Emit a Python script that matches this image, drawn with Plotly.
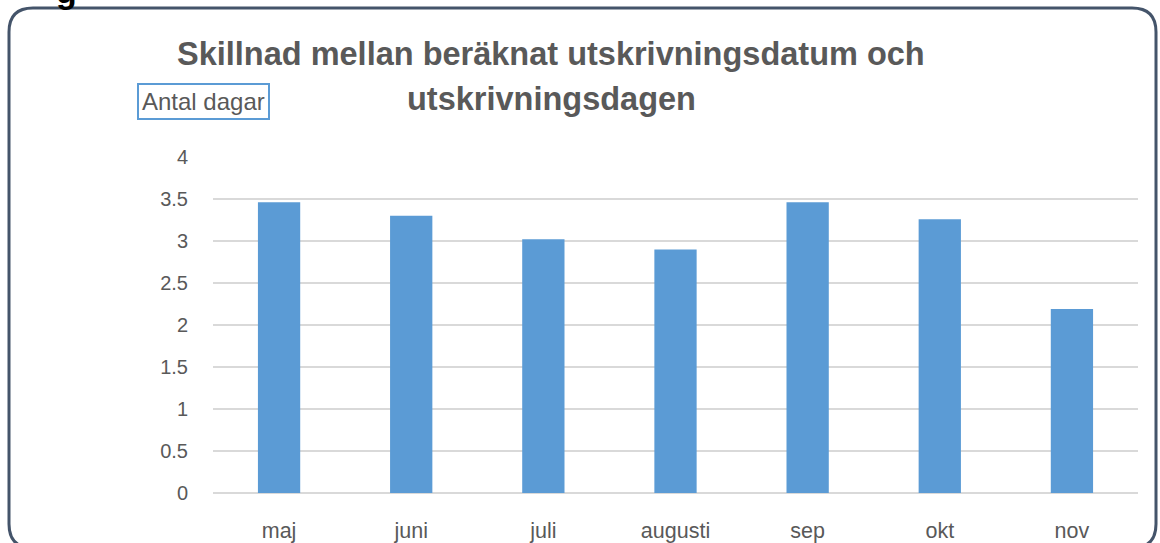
import plotly.graph_objects as go

months = ["maj", "juni", "juli", "augusti", "sep", "okt", "nov"]
days = [3.46, 3.30, 3.02, 2.90, 3.46, 3.26, 2.19]
y_ticks = [0, 0.5, 1, 1.5, 2, 2.5, 3, 3.5, 4]
y_tick_text = ["0", "0.5", "1", "1.5", "2", "2.5", "3", "3.5", "4"]

W, H = 1160, 543
L, R, T, B = 213, 22, 157, 50
PW, PH = W - L - R, H - T - B

def px(x):
    return (x - L) / PW

def py(y):
    return (H - B - y) / PH

fig = go.Figure(go.Bar(x=months, y=days, marker_color="#5B9BD5", marker_line_width=0))

GRAY = "#595959"
FONT = "Liberation Sans"

# rounded border
x0, x1, y0, y1, r = 9, 1156, 8, 548, 24
path = (f"M {px(x0+r)} {py(y0)} L {px(x1-r)} {py(y0)} "
        f"Q {px(x1)} {py(y0)} {px(x1)} {py(y0+r)} "
        f"L {px(x1)} {py(y1-r)} Q {px(x1)} {py(y1)} {px(x1-r)} {py(y1)} "
        f"L {px(x0+r)} {py(y1)} Q {px(x0)} {py(y1)} {px(x0)} {py(y1-r)} "
        f"L {px(x0)} {py(y0+r)} Q {px(x0)} {py(y0)} {px(x0+r)} {py(y0)} Z")
fig.add_shape(type="path", path=path, xref="paper", yref="paper",
              line=dict(color="#44546A", width=3), layer="below")

fig.add_annotation(text="<b>Skillnad mellan beräknat utskrivningsdatum och</b>",
                   x=px(551), y=py(74), xref="paper", yref="paper",
                   xanchor="center", yanchor="bottom", showarrow=False,
                   font=dict(family=FONT, size=32.5, color=GRAY))
fig.add_annotation(text="<b>utskrivningsdagen</b>",
                   x=px(551), y=py(119), xref="paper", yref="paper",
                   xanchor="center", yanchor="bottom", showarrow=False,
                   font=dict(family=FONT, size=32.5, color=GRAY))
fig.add_annotation(text="Antal dagar", x=px(203.5), y=py(101.5), xref="paper", yref="paper",
                   xanchor="center", yanchor="middle", showarrow=False,
                   font=dict(family=FONT, size=24, color=GRAY),
                   bordercolor="#5B9BD5", borderwidth=2, borderpad=3, bgcolor="white")
fig.add_annotation(text="<b>g</b>", x=px(54), y=py(12), xref="paper", yref="paper",
                   xanchor="left", yanchor="bottom", showarrow=False,
                   font=dict(family=FONT, size=34, color="black"))

fig.update_layout(
    width=W, height=H,
    margin=dict(l=L, r=R, t=T, b=B),
    paper_bgcolor="white", plot_bgcolor="white",
    bargap=0.68, showlegend=False,
    font=dict(family=FONT, color=GRAY, size=20),
)
fig.update_yaxes(range=[0, 4], tickvals=y_ticks, ticktext=y_tick_text,
                 showgrid=True, gridcolor="#D9D9D9", gridwidth=1.5,
                 zeroline=True, zerolinecolor="#D9D9D9", zerolinewidth=1.5,
                 showline=False, ticklabelstandoff=24, automargin=False,
                 tickfont=dict(family=FONT, size=20, color=GRAY))
fig.update_xaxes(showline=False, showgrid=False, ticklabelstandoff=22, automargin=False,
                 tickfont=dict(family=FONT, size=21.5, color=GRAY))

fig.write_html("out.html", config={"displayModeBar": False},
               post_script="document.body.style.margin='0';")
